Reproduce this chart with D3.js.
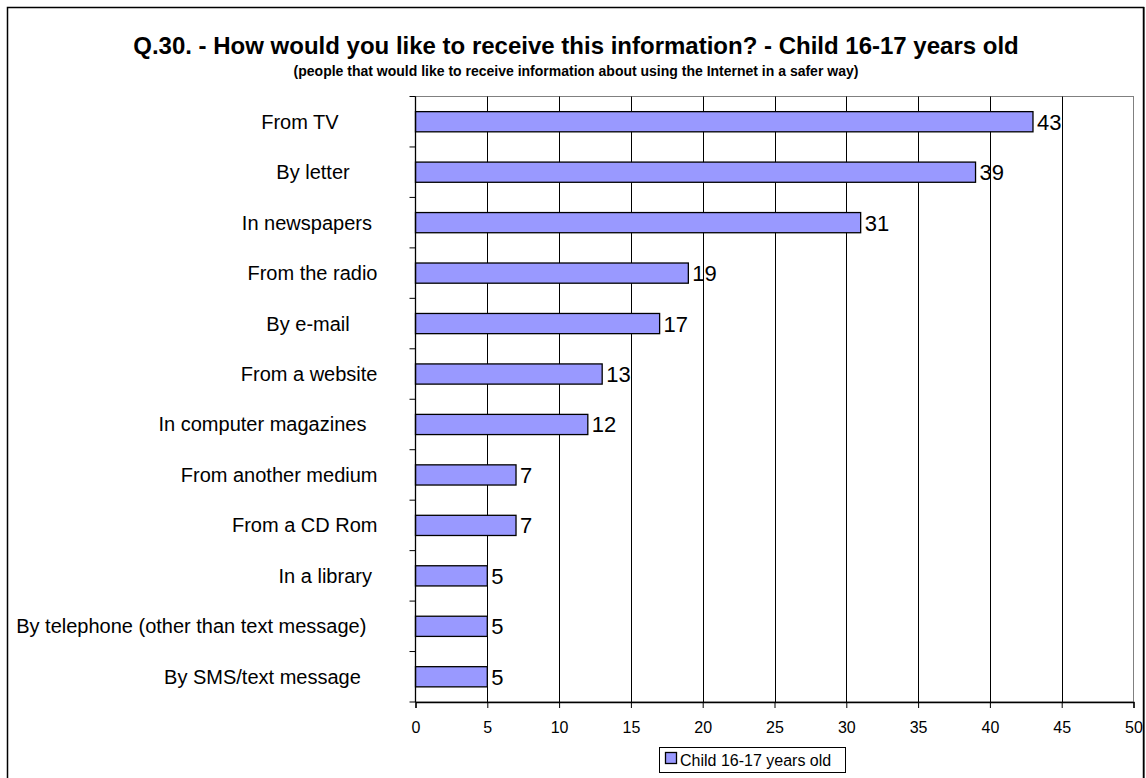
<!DOCTYPE html>
<html>
<head>
<meta charset="utf-8">
<script src="https://cdn.jsdelivr.net/npm/d3@7"></script>
<style>
  html, body { margin: 0; padding: 0; background: #fff; }
  svg text { font-family: Arial, "Liberation Sans", sans-serif; white-space: pre; }
</style>
</head>
<body>
<svg id="chart" width="1146" height="778"></svg>
<script>
// ---- data ----
const categories = [
  "From TV       ",
  "By letter     ",
  "In newspapers ",
  "From the radio",
  "By e-mail     ",
  "From a website",
  "In computer magazines  ",
  "From another medium",
  "From a CD Rom",
  "In a library ",
  "By telephone (other than text message)  ",
  "By SMS/text message   "
];
const values = [43, 39, 31, 19, 17, 13, 12, 7, 7, 5, 5, 5];
const seriesName = "Child 16-17 years old";
const xTicks = [0, 5, 10, 15, 20, 25, 30, 35, 40, 45, 50];
const titleText = "Q.30. - How would you like to receive this information? - Child 16-17 years old";
const subtitleText = "(people that would like to receive information about using the Internet in a safer way)";

// ---- layout ----
const plot = { left: 415.5, right: 1133.5, top: 96.5, bottom: 702 };
const svg = d3.select("#chart");

// outer frame
svg.append("rect").attr("x", 7.5).attr("y", 7.5).attr("width", 1136).attr("height", 772)
  .attr("fill", "#fff").attr("stroke", "#000").attr("stroke-width", 1.5);
svg.append("line").attr("x1", 1144).attr("x2", 1144).attr("y1", 7).attr("y2", 778)
  .attr("stroke", "#000").attr("stroke-width", 1);

// titles
svg.append("text").attr("x", 576).attr("y", 54).attr("text-anchor", "middle")
  .attr("font-size", 24).attr("font-weight", "bold").text(titleText);
svg.append("text").attr("x", 576).attr("y", 76).attr("text-anchor", "middle")
  .attr("font-size", 14).attr("font-weight", "bold").text(subtitleText);

// scales
const x = d3.scaleLinear().domain([0, 50]).range([plot.left, plot.right]);
const y = d3.scaleBand().domain(d3.range(categories.length))
  .range([plot.top, plot.bottom]).paddingInner(0.6).paddingOuter(0.3);

// plot border (top/right gray)
svg.append("rect").attr("x", plot.left).attr("y", plot.top)
  .attr("width", plot.right - plot.left).attr("height", plot.bottom - plot.top)
  .attr("fill", "none").attr("stroke", "#808080").attr("stroke-width", 1);

// vertical gridlines
svg.append("g").selectAll("line").data(xTicks.filter(d => d > 0 && d < 50)).join("line")
  .attr("x1", d => Math.round(x(d)) + 0.5).attr("x2", d => Math.round(x(d)) + 0.5)
  .attr("y1", plot.top).attr("y2", plot.bottom)
  .attr("stroke", "#000").attr("stroke-width", 1);

// bars
svg.append("g").selectAll("rect").data(values).join("rect")
  .attr("x", x(0)).attr("y", (d, i) => y(i))
  .attr("width", d => x(d) - x(0)).attr("height", y.bandwidth())
  .attr("fill", "#9999FF").attr("stroke", "#000").attr("stroke-width", 1.3);

// value labels
svg.append("g").selectAll("text").data(values).join("text")
  .attr("x", d => x(d) + 4).attr("y", (d, i) => y(i) + y.bandwidth() / 2 + 8)
  .attr("font-size", 22).text(d => d);

// x axis
const xAxis = d3.axisBottom(x).tickValues(xTicks).tickSize(6).tickPadding(5).tickFormat(d3.format("d"));
const gx = svg.append("g").attr("transform", `translate(0,${plot.bottom})`).call(xAxis);
gx.select(".domain").attr("stroke", "#000").attr("stroke-width", 1.3);
gx.selectAll(".tick line").attr("stroke", "#000");
gx.selectAll(".tick text").attr("font-size", 16).attr("font-family", "Arial, 'Liberation Sans', sans-serif")
  .attr("fill", "#000").attr("dy", "1.25em");

// y axis line and ticks at band boundaries
const boundaries = d3.range(categories.length + 1).map(i => plot.top + i * (plot.bottom - plot.top) / categories.length);
svg.append("line").attr("x1", plot.left).attr("x2", plot.left)
  .attr("y1", plot.top).attr("y2", plot.bottom).attr("stroke", "#000").attr("stroke-width", 1.3);
svg.append("g").selectAll("line").data(boundaries).join("line")
  .attr("x1", plot.left - 6).attr("x2", plot.left)
  .attr("y1", d => d).attr("y2", d => d).attr("stroke", "#000").attr("stroke-width", 1);

// category labels
svg.append("g").selectAll("text").data(categories).join("text")
  .attr("x", 377.5).attr("y", (d, i) => y(i) + y.bandwidth() / 2 + 7)
  .attr("text-anchor", "end").attr("font-size", 20)
  .attr("xml:space", "preserve").text(d => d);

// legend
const lg = svg.append("g");
lg.append("rect").attr("x", 659.5).attr("y", 747.5).attr("width", 186).attr("height", 25)
  .attr("fill", "#fff").attr("stroke", "#000").attr("stroke-width", 1);
lg.append("rect").attr("x", 665.5).attr("y", 752.5).attr("width", 11).attr("height", 11)
  .attr("fill", "#9999FF").attr("stroke", "#000").attr("stroke-width", 1.3);
lg.append("text").attr("x", 680).attr("y", 766).attr("font-size", 16).text(seriesName);
</script>
</body>
</html>
